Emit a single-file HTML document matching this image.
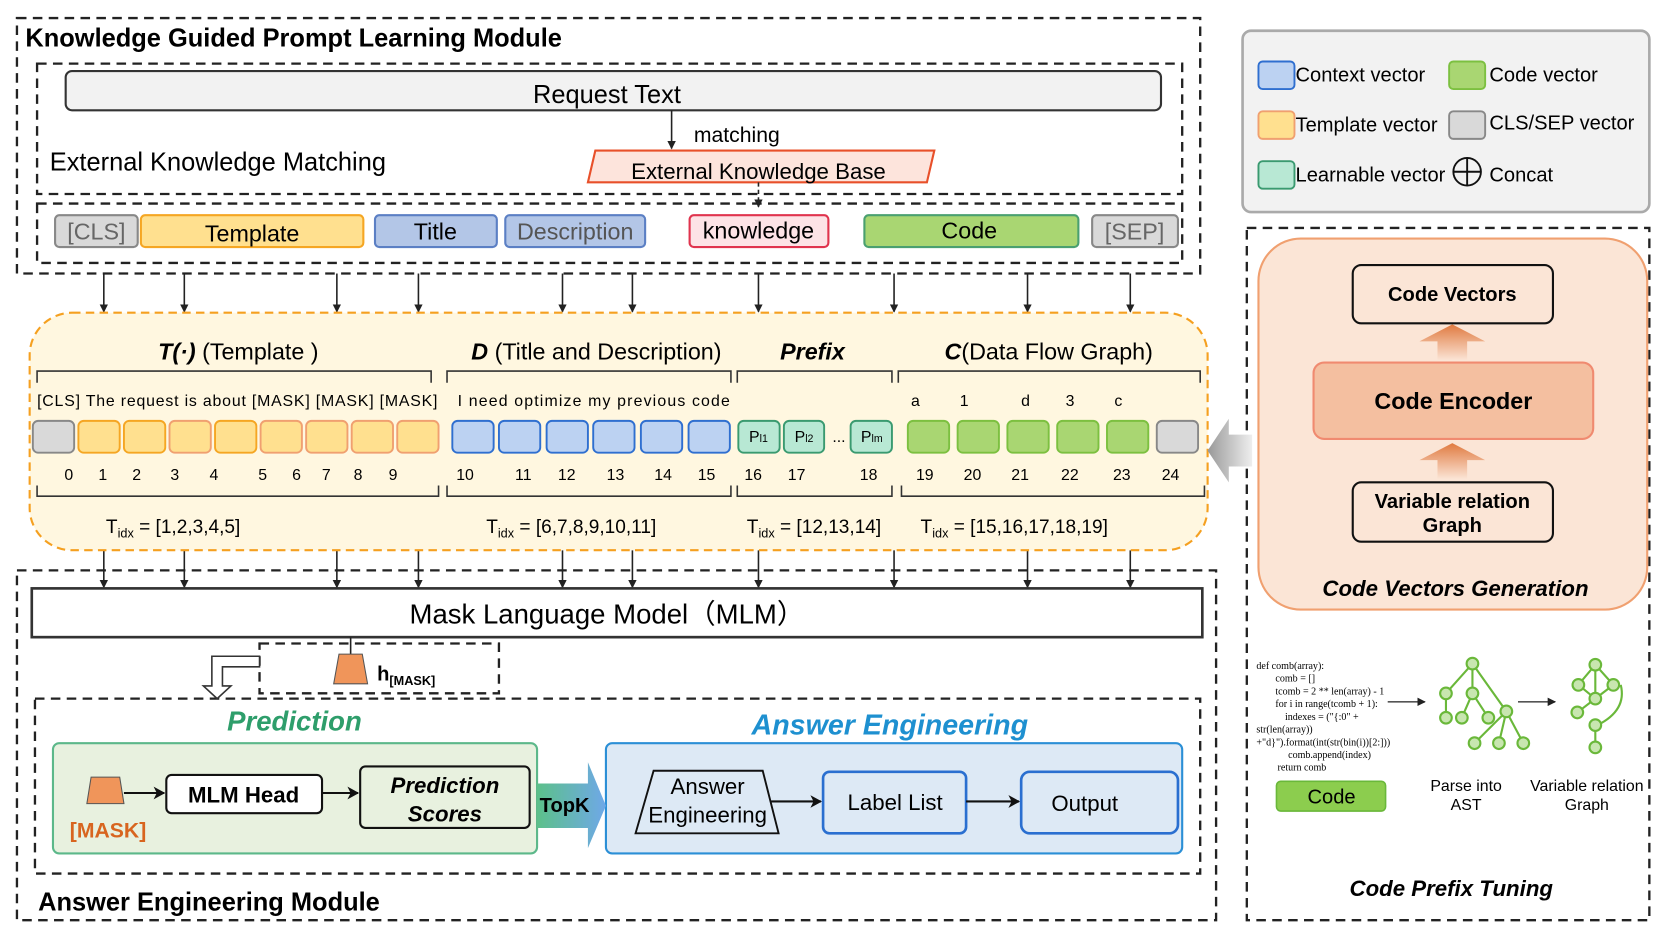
<!DOCTYPE html>
<html><head><meta charset="utf-8"><style>
html,body{margin:0;padding:0;background:#fff;}
svg{display:block;font-family:"Liberation Sans",sans-serif;}
</style></head><body>
<svg width="1661" height="934" viewBox="0 0 1568 881" preserveAspectRatio="none" xmlns="http://www.w3.org/2000/svg">
<defs>
<marker id="ah" markerWidth="8" markerHeight="8" refX="7" refY="4" orient="auto" markerUnits="userSpaceOnUse"><path d="M0,0 L8,4 L0,8 z" fill="#222"/></marker>
<marker id="ah2" markerWidth="12" markerHeight="12" refX="10" refY="6" orient="auto" markerUnits="userSpaceOnUse"><path d="M0,0 L11,6 L0,12 L3,6 z" fill="#111"/></marker>
<linearGradient id="topk" x1="0" x2="1" y1="0" y2="0"><stop offset="0" stop-color="#5cc08a"/><stop offset="1" stop-color="#6fa8e8"/></linearGradient>
<linearGradient id="upar" x1="0" x2="0" y1="0" y2="1"><stop offset="0" stop-color="#e07a40"/><stop offset="1" stop-color="#fbe5d6"/></linearGradient>
<linearGradient id="gar" x1="0" x2="1"><stop offset="0" stop-color="#999"/><stop offset="1" stop-color="#eee"/></linearGradient>
</defs>
<g fill="none" stroke="#222" stroke-width="2.2" stroke-dasharray="9,6">
<rect x="16" y="17" width="1117" height="241"/>
<rect x="35" y="60" width="1081" height="123"/>
<rect x="35" y="192" width="1081" height="56"/>
<rect x="16" y="538" width="1132" height="330"/>
<rect x="245" y="607" width="226" height="47"/>
<rect x="33" y="659" width="1100" height="165"/>
<rect x="1177" y="215" width="380" height="653"/>
</g>
<text x="24" y="44" font-size="24" font-weight="bold">Knowledge Guided Prompt Learning Module</text>
<rect x="62" y="67" width="1034" height="37" rx="6" fill="#f2f2f2" stroke="#333" stroke-width="2"/>
<text x="573" y="97" font-size="24" text-anchor="middle">Request Text</text>
<line x1="634" y1="104" x2="634" y2="140" stroke="#222" stroke-width="1.5" marker-end="url(#ah)"/>
<text x="655" y="134" font-size="20">matching</text>
<text x="47" y="161" font-size="24">External Knowledge Matching</text>
<polygon points="562,142 882,142 875,172 555,172" fill="#fde4dc" stroke="#e8502a" stroke-width="2"/>
<text x="716" y="169" font-size="21" text-anchor="middle">External Knowledge Base</text>
<line x1="716" y1="172" x2="716" y2="195" stroke="#222" stroke-width="1.5" stroke-dasharray="4,3" marker-end="url(#ah)"/>
<g stroke-width="2" font-size="22" text-anchor="middle">
<rect x="52" y="203" width="78" height="30" rx="4" fill="#d9d9d9" stroke="#888"/><text x="91" y="226" fill="#666" stroke="none">[CLS]</text>
<rect x="133" y="203" width="210" height="30" rx="4" fill="#ffe08f" stroke="#f5a623"/><text x="238" y="228" stroke="none">Template</text>
<rect x="354" y="203" width="115" height="30" rx="4" fill="#b3c6e7" stroke="#5b7fc4"/><text x="411" y="226" stroke="none">Title</text>
<rect x="477" y="203" width="132" height="30" rx="4" fill="#b3c6e7" stroke="#5b7fc4"/><text x="543" y="226" fill="#555" stroke="none">Description</text>
<rect x="651" y="203" width="131" height="30" rx="4" fill="#fde3e6" stroke="#e0344e"/><text x="716" y="225" stroke="none">knowledge</text>
<rect x="816" y="203" width="202" height="30" rx="4" fill="#a9d672" stroke="#4aa070"/><text x="915" y="225" stroke="none">Code</text>
<rect x="1031" y="203" width="81" height="30" rx="4" fill="#d9d9d9" stroke="#888"/><text x="1071" y="226" fill="#666" stroke="none">[SEP]</text>
</g>
<g stroke="#222" stroke-width="1.5">
<line x1="98" y1="258" x2="98" y2="294" marker-end="url(#ah)"/><line x1="174" y1="258" x2="174" y2="294" marker-end="url(#ah)"/>
<line x1="318" y1="258" x2="318" y2="294" marker-end="url(#ah)"/><line x1="395" y1="258" x2="395" y2="294" marker-end="url(#ah)"/>
<line x1="531" y1="258" x2="531" y2="294" marker-end="url(#ah)"/><line x1="597" y1="258" x2="597" y2="294" marker-end="url(#ah)"/>
<line x1="716" y1="258" x2="716" y2="294" marker-end="url(#ah)"/><line x1="844" y1="258" x2="844" y2="294" marker-end="url(#ah)"/>
<line x1="970" y1="258" x2="970" y2="294" marker-end="url(#ah)"/><line x1="1067" y1="258" x2="1067" y2="294" marker-end="url(#ah)"/>
<line x1="98" y1="519" x2="98" y2="554" marker-end="url(#ah)"/><line x1="174" y1="519" x2="174" y2="554" marker-end="url(#ah)"/>
<line x1="318" y1="519" x2="318" y2="554" marker-end="url(#ah)"/><line x1="395" y1="519" x2="395" y2="554" marker-end="url(#ah)"/>
<line x1="531" y1="519" x2="531" y2="554" marker-end="url(#ah)"/><line x1="597" y1="519" x2="597" y2="554" marker-end="url(#ah)"/>
<line x1="716" y1="519" x2="716" y2="554" marker-end="url(#ah)"/><line x1="844" y1="519" x2="844" y2="554" marker-end="url(#ah)"/>
<line x1="970" y1="519" x2="970" y2="554" marker-end="url(#ah)"/><line x1="1067" y1="519" x2="1067" y2="554" marker-end="url(#ah)"/>
</g>
<rect x="28" y="295" width="1112" height="224" rx="40" fill="#fff7e0" stroke="#f5a020" stroke-width="2" stroke-dasharray="8,5"/>
<g font-size="22" text-anchor="middle">
<text x="225" y="339"><tspan font-weight="bold" font-style="italic">T(·)</tspan> (Template )</text>
<text x="563" y="339"><tspan font-weight="bold" font-style="italic">D</tspan> (Title and Description)</text>
<text x="767" y="339" font-weight="bold" font-style="italic">Prefix</text>
<text x="990" y="339"><tspan font-weight="bold" font-style="italic">C</tspan>(Data Flow Graph)</text>
</g>
<g fill="none" stroke="#333" stroke-width="1.5">
<path d="M35,361 V350 H407 V361"/><path d="M422,361 V350 H690 V361"/><path d="M696,361 V350 H842 V361"/><path d="M848,361 V350 H1133 V361"/>
<path d="M35,458 V468 H414 V458"/><path d="M422,458 V468 H690 V458"/><path d="M696,458 V468 H842 V458"/><path d="M851,458 V468 H1137 V458"/>
</g>
<g font-size="15">
<text x="35" y="383" textLength="378" lengthAdjust="spacing">[CLS] The request  is about [MASK] [MASK] [MASK]</text>
<text x="432" y="383" textLength="257" lengthAdjust="spacing">I need  optimize my  previous  code</text>
<text x="860" y="383">a</text><text x="906" y="383">1</text><text x="964" y="383">d</text><text x="1006" y="383">3</text><text x="1052" y="383">c</text>
</g>
<g stroke-width="1.8">
<rect x="31" y="397" width="39" height="30" rx="5" fill="#d9d9d9" stroke="#888"/>
<rect x="74" y="397" width="39" height="30" rx="5" fill="#ffe08f" stroke="#f5a623"/>
<rect x="117" y="397" width="39" height="30" rx="5" fill="#ffe08f" stroke="#f5a623"/>
<rect x="160" y="397" width="39" height="30" rx="5" fill="#ffe08f" stroke="#f0a070"/>
<rect x="203" y="397" width="39" height="30" rx="5" fill="#ffe08f" stroke="#f5a623"/>
<rect x="246" y="397" width="39" height="30" rx="5" fill="#ffe08f" stroke="#f0a070"/>
<rect x="289" y="397" width="39" height="30" rx="5" fill="#ffe08f" stroke="#f0a070"/>
<rect x="332" y="397" width="39" height="30" rx="5" fill="#ffe08f" stroke="#f0a070"/>
<rect x="375" y="397" width="39" height="30" rx="5" fill="#ffe08f" stroke="#f0a070"/>
<rect x="427" y="397" width="39" height="30" rx="5" fill="#bcd2f2" stroke="#2f6fd0"/>
<rect x="471" y="397" width="39" height="30" rx="5" fill="#bcd2f2" stroke="#2f6fd0"/>
<rect x="516" y="397" width="39" height="30" rx="5" fill="#bcd2f2" stroke="#2f6fd0"/>
<rect x="560" y="397" width="39" height="30" rx="5" fill="#bcd2f2" stroke="#2f6fd0"/>
<rect x="605" y="397" width="39" height="30" rx="5" fill="#bcd2f2" stroke="#2f6fd0"/>
<rect x="650" y="397" width="39" height="30" rx="5" fill="#bcd2f2" stroke="#2f6fd0"/>
<rect x="697" y="397" width="39" height="30" rx="5" fill="#b8e8d4" stroke="#3a9a70"/>
<rect x="740" y="397" width="38" height="30" rx="5" fill="#b8e8d4" stroke="#3a9a70"/>
<rect x="803" y="397" width="39" height="30" rx="5" fill="#b8e8d4" stroke="#3a9a70"/>
<rect x="857" y="397" width="39" height="30" rx="5" fill="#a9d672" stroke="#7cc040"/>
<rect x="904" y="397" width="39" height="30" rx="5" fill="#a9d672" stroke="#7cc040"/>
<rect x="951" y="397" width="39" height="30" rx="5" fill="#a9d672" stroke="#7cc040"/>
<rect x="998" y="397" width="39" height="30" rx="5" fill="#a9d672" stroke="#7cc040"/>
<rect x="1045" y="397" width="39" height="30" rx="5" fill="#a9d672" stroke="#7cc040"/>
<rect x="1092" y="397" width="39" height="30" rx="5" fill="#d9d9d9" stroke="#888"/>
</g>
<g font-size="15" text-anchor="middle">
<text x="716" y="417">P<tspan font-size="10">l1</tspan></text><text x="759" y="417">P<tspan font-size="10">l2</tspan></text>
<text x="792" y="417">...</text><text x="823" y="417">P<tspan font-size="10">lm</tspan></text>
</g>
<g font-size="15" text-anchor="middle">
<text x="65" y="453">0</text><text x="97" y="453">1</text><text x="129" y="453">2</text><text x="165" y="453">3</text><text x="202" y="453">4</text><text x="248" y="453">5</text><text x="280" y="453">6</text><text x="308" y="453">7</text><text x="338" y="453">8</text><text x="371" y="453">9</text>
<text x="439" y="453">10</text><text x="494" y="453">11</text><text x="535" y="453">12</text><text x="581" y="453">13</text><text x="626" y="453">14</text><text x="667" y="453">15</text>
<text x="711" y="453">16</text><text x="752" y="453">17</text><text x="820" y="453">18</text>
<text x="873" y="453">19</text><text x="918" y="453">20</text><text x="963" y="453">21</text><text x="1010" y="453">22</text><text x="1059" y="453">23</text><text x="1105" y="453">24</text>
</g>
<g font-size="18">
<text x="100" y="503">T<tspan font-size="12" dy="4">idx</tspan><tspan dy="-4"> = [1,2,3,4,5]</tspan></text>
<text x="459" y="503">T<tspan font-size="12" dy="4">idx</tspan><tspan dy="-4"> = [6,7,8,9,10,11]</tspan></text>
<text x="705" y="503">T<tspan font-size="12" dy="4">idx</tspan><tspan dy="-4"> = [12,13,14]</tspan></text>
<text x="869" y="503">T<tspan font-size="12" dy="4">idx</tspan><tspan dy="-4"> = [15,16,17,18,19]</tspan></text>
</g>
<polygon points="1140,425 1160,395 1160,410 1182,410 1182,440 1160,440 1160,455" fill="url(#gar)"/>
<rect x="30" y="555" width="1105" height="46" fill="#fff" stroke="#333" stroke-width="2.5"/>
<text x="573" y="588" font-size="26" text-anchor="middle">Mask Language Model（MLM）</text>
<line x1="331" y1="601" x2="331" y2="617" stroke="#222" stroke-width="1.5"/>
<polygon points="320,617 342,617 347,645 315,645" fill="#f0955a" stroke="#555" stroke-width="1"/>
<text x="356" y="642" font-size="19" font-weight="bold">h<tspan font-size="12" dy="4">[MASK]</tspan></text>
<path d="M245,619 H200 V647 H192 L205,659 L218,647 H210 V629 H245 Z" fill="#fff" stroke="#333" stroke-width="1.5"/>
<text x="278" y="689" font-size="26" font-weight="bold" font-style="italic" fill="#2e9e6b" text-anchor="middle">Prediction</text>
<text x="840" y="693" font-size="27" font-weight="bold" font-style="italic" fill="#1e90d0" text-anchor="middle">Answer Engineering</text>
<rect x="50" y="701" width="457" height="104" rx="6" fill="#e8f1df" stroke="#5cb88a" stroke-width="2"/>
<polygon points="86,733 113,733 117,758 82,758" fill="#f0955a" stroke="#555" stroke-width="1"/>
<text x="102" y="790" font-size="20" font-weight="bold" fill="#d8651f" text-anchor="middle">[MASK]</text>
<line x1="117" y1="748" x2="155" y2="748" stroke="#111" stroke-width="2" marker-end="url(#ah2)"/>
<rect x="157" y="731" width="147" height="36" rx="5" fill="#fff" stroke="#111" stroke-width="2"/>
<text x="230" y="757" font-size="21" font-weight="bold" text-anchor="middle">MLM Head</text>
<line x1="304" y1="748" x2="338" y2="748" stroke="#111" stroke-width="2" marker-end="url(#ah2)"/>
<rect x="340" y="723" width="160" height="58" rx="5" fill="#e8f1df" stroke="#111" stroke-width="2"/>
<text x="420" y="748" font-size="21" font-weight="bold" font-style="italic" text-anchor="middle">Prediction</text>
<text x="420" y="775" font-size="21" font-weight="bold" font-style="italic" text-anchor="middle">Scores</text>
<rect x="572" y="701" width="544" height="104" rx="6" fill="#dde9f5" stroke="#2b8fd6" stroke-width="2"/>
<polygon points="507,739 555,739 555,719 572,760 555,800 555,781 507,781" fill="url(#topk)"/>
<text x="533" y="766" font-size="19" font-weight="bold" text-anchor="middle">TopK</text>
<polygon points="617,727 720,727 735,786 600,786" fill="#dde9f5" stroke="#111" stroke-width="1.8"/>
<text x="668" y="749" font-size="21" text-anchor="middle">Answer</text>
<text x="668" y="776" font-size="21" text-anchor="middle">Engineering</text>
<line x1="728" y1="756" x2="775" y2="756" stroke="#111" stroke-width="2" marker-end="url(#ah2)"/>
<rect x="777" y="728" width="135" height="58" rx="6" fill="#dde9f5" stroke="#2a6fd0" stroke-width="2.5"/>
<text x="845" y="764" font-size="21" text-anchor="middle">Label List</text>
<line x1="912" y1="756" x2="962" y2="756" stroke="#111" stroke-width="2" marker-end="url(#ah2)"/>
<rect x="964" y="728" width="148" height="58" rx="8" fill="#dde9f5" stroke="#2a6fd0" stroke-width="2.5"/>
<text x="1024" y="765" font-size="21" text-anchor="middle">Output</text>
<text x="36" y="859" font-size="24" font-weight="bold">Answer Engineering Module</text>
<rect x="1173" y="29" width="384" height="171" rx="8" fill="#f2f2f2" stroke="#aaa" stroke-width="2.5"/>
<g stroke-width="1.8" font-size="19">
<rect x="1188" y="58" width="34" height="26" rx="4" fill="#bcd2f2" stroke="#2f6fd0"/><text x="1223" y="77">Context vector</text>
<rect x="1368" y="58" width="34" height="26" rx="4" fill="#a9d672" stroke="#7cc040"/><text x="1406" y="77">Code vector</text>
<rect x="1188" y="105" width="34" height="26" rx="4" fill="#ffe08f" stroke="#f0a070"/><text x="1223" y="124">Template vector</text>
<rect x="1368" y="105" width="34" height="26" rx="4" fill="#d9d9d9" stroke="#888"/><text x="1406" y="122">CLS/SEP vector</text>
<rect x="1188" y="152" width="34" height="26" rx="4" fill="#b8e8d4" stroke="#3a9a70"/><text x="1223" y="171">Learnable vector</text>
<circle cx="1385" cy="162" r="13" fill="none" stroke="#111"/><path d="M1372,162 H1398 M1385,149 V175" stroke="#111"/>
<text x="1406" y="171">Concat</text>
</g>
<rect x="1188" y="225" width="367" height="350" rx="40" fill="#fbe5d6" stroke="#f0a070" stroke-width="2"/>
<rect x="1277" y="250" width="189" height="55" rx="8" fill="#fbe5d6" stroke="#111" stroke-width="2"/>
<text x="1371" y="284" font-size="19" font-weight="bold" text-anchor="middle">Code Vectors</text>
<polygon points="1340,322 1371,306 1402,322 1385,322 1385,340 1357,340 1357,322" fill="url(#upar)"/>
<rect x="1240" y="342" width="264" height="72" rx="10" fill="#f4bfa0" stroke="#f08a70" stroke-width="2"/>
<text x="1372" y="386" font-size="22" font-weight="bold" text-anchor="middle">Code Encoder</text>
<polygon points="1340,434 1371,418 1402,434 1385,434 1385,452 1357,452 1357,434" fill="url(#upar)"/>
<rect x="1277" y="455" width="189" height="56" rx="8" fill="#fbe5d6" stroke="#111" stroke-width="2"/>
<text x="1371" y="479" font-size="19" font-weight="bold" text-anchor="middle">Variable relation</text>
<text x="1371" y="502" font-size="19" font-weight="bold" text-anchor="middle">Graph</text>
<text x="1374" y="562" font-size="21" font-weight="bold" font-style="italic" text-anchor="middle">Code Vectors Generation</text>
<g font-family="Liberation Serif,serif" font-size="9.5">
<text x="1186" y="631">def comb(array):</text>
<text x="1204" y="643">comb = []</text>
<text x="1204" y="655">tcomb = 2 ** len(array) - 1</text>
<text x="1204" y="667">for i in range(tcomb + 1):</text>
<text x="1213" y="679">indexes = ("{:0" +</text>
<text x="1186" y="691">str(len(array))</text>
<text x="1186" y="703">+"d}").format(int(str(bin(i))[2:]))</text>
<text x="1216" y="715">comb.append(index)</text>
<text x="1206" y="727">return comb</text>
</g>
<line x1="1310" y1="662" x2="1345" y2="662" stroke="#555" stroke-width="1.5" marker-end="url(#ah)"/>
<line x1="1433" y1="662" x2="1468" y2="662" stroke="#555" stroke-width="1.5" marker-end="url(#ah)"/>
<g stroke="#6ab83a" stroke-width="2" fill="#c8e6b0">
<path d="M1390,626 L1365,654 M1390,626 V654 M1390,626 L1422,671 M1365,654 V677 M1390,654 L1380,677 M1390,654 L1405,677 M1422,671 L1392,701 M1422,671 L1415,701 M1422,671 L1438,701" fill="none"/>
<circle cx="1390" cy="626" r="5.5"/><circle cx="1365" cy="654" r="5.5"/><circle cx="1390" cy="654" r="5.5"/><circle cx="1422" cy="671" r="5.5"/>
<circle cx="1365" cy="677" r="5.5"/><circle cx="1380" cy="677" r="5.5"/><circle cx="1405" cy="677" r="5.5"/>
<circle cx="1392" cy="701" r="5.5"/><circle cx="1415" cy="701" r="5.5"/><circle cx="1438" cy="701" r="5.5"/>
<path d="M1506,627 L1490,646 M1506,627 L1523,646 M1506,627 V659 M1490,646 L1506,659 M1523,646 L1506,659 M1506,659 L1489,672 M1530,646 Q1536,670 1508,684 M1506,684 V705" fill="none"/>
<circle cx="1506" cy="627" r="5.5"/><circle cx="1490" cy="646" r="5.5"/><circle cx="1523" cy="646" r="5.5"/><circle cx="1506" cy="659" r="5.5"/>
<circle cx="1489" cy="672" r="5.5"/><circle cx="1506" cy="684" r="5.5"/><circle cx="1506" cy="705" r="5.5"/>
</g>
<rect x="1205" y="737" width="103" height="28" rx="4" fill="#8ccd4e" stroke="#6ab83a" stroke-width="1.5"/>
<text x="1257" y="758" font-size="19" text-anchor="middle">Code</text>
<text x="1384" y="746" font-size="15" text-anchor="middle">Parse into</text>
<text x="1384" y="764" font-size="15" text-anchor="middle">AST</text>
<text x="1498" y="746" font-size="15" text-anchor="middle">Variable relation</text>
<text x="1498" y="764" font-size="15" text-anchor="middle">Graph</text>
<text x="1370" y="845" font-size="21" font-weight="bold" font-style="italic" text-anchor="middle">Code Prefix Tuning</text>
</svg>
</body></html>
